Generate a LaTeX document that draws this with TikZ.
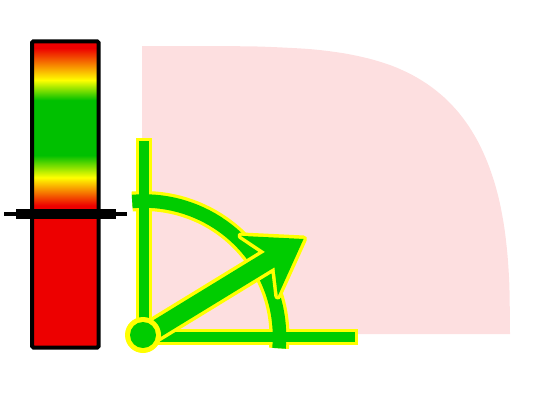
\documentclass[tikz,border=0pt]{standalone}
\definecolor{barred}{RGB}{237,0,0}
\definecolor{bargreen}{RGB}{0,192,0}
\definecolor{axgreen}{RGB}{0,204,0}
\definecolor{axyellow}{RGB}{255,255,0}
\definecolor{pinkfill}{RGB}{253,223,224}
\pgfdeclareverticalshading{barshade}{100bp}{color(0bp)=(barred); color(25bp)=(barred); color(26.2bp)=(barred); color(34.64bp)=(yellow); color(41.27bp)=(bargreen); color(57.83bp)=(bargreen); color(63.86bp)=(yellow); color(73.49bp)=(barred); color(75bp)=(barred); color(100bp)=(barred)}
\tikzset{
  axisout/.style={axyellow, line width=16pt, line cap=rect},
  axisin/.style={axgreen, line width=10pt, line cap=rect},
  arcout/.style={axyellow, line width=20pt},
  arcin/.style={axgreen, line width=13.5pt}
}
\begin{document}
\begin{tikzpicture}[x=1pt,y=1pt]
\useasboundingbox (0,0) rectangle (534,-400);
% pink region
\fill[pinkfill] (142,-334) -- (142,-46)
  -- plot[smooth] coordinates {(142,-46) (233.6,-46.2) (266.6,-46.8) (311.2,-49.2) (343.9,-53.3) (370.5,-59.0) (393.1,-66.2) (412.5,-75.1) (429.5,-85.6) (444.4,-97.6) (457.5,-111.2) (468.9,-126.4) (478.8,-143.2) (487.2,-161.7) (494.3,-181.9) (500.0,-203.9) (504.4,-228.2) (507.5,-255.3) (509.4,-286.8) (510,-334)}
  -- cycle;
% gauge bar
\fill[barred] (32,-41.3) rectangle (98.7,-347.5);
\shade[shading=barshade] (32,-43) rectangle (98.7,-209.5);
\draw[black, line width=4pt, rounded corners=1.5pt] (32,-41.3) rectangle (98.7,-347.5);
\fill[black] (4,-211.7) rectangle (126.7,-215.7);
\fill[black] (16,-209.3) rectangle (116,-219.3);
% axes and arc
\coordinate (O) at (144,-336.5);
\coordinate (ytop) at (144,-146);
\coordinate (xend) at (350,-336.5);
\coordinate (arcstart) at (278.98,-348.31);
\draw[axisout] (O) -- (ytop);
\draw[axisout] (O) -- (xend);
\draw[arcout] (arcstart) arc[start angle=-5, end angle=95, radius=135.5];
\draw[axisin] (O) -- (ytop);
\draw[axisin] (O) -- (xend);
\draw[arcin] (arcstart) arc[start angle=-5, end angle=95, radius=135.5];
% arrow
\begin{scope}[shift={(O)}, rotate=31.44]
\draw[axyellow, line width=7pt, line join=round] (0,9) -- (147.4,9) -- (135.3,35.2) -- (187,0) -- (135.3,-35.2) -- (147.4,-9) -- (0,-9) -- cycle;
\fill[axgreen] (0,9) -- (147.4,9) -- (135.3,35.2) -- (187,0) -- (135.3,-35.2) -- (147.4,-9) -- (0,-9) -- cycle;
\end{scope}
% origin dot
\fill[axyellow] (143,-335) circle[radius=18];
\fill[axgreen] (143,-335) circle[radius=13];
\end{tikzpicture}
\end{document}
